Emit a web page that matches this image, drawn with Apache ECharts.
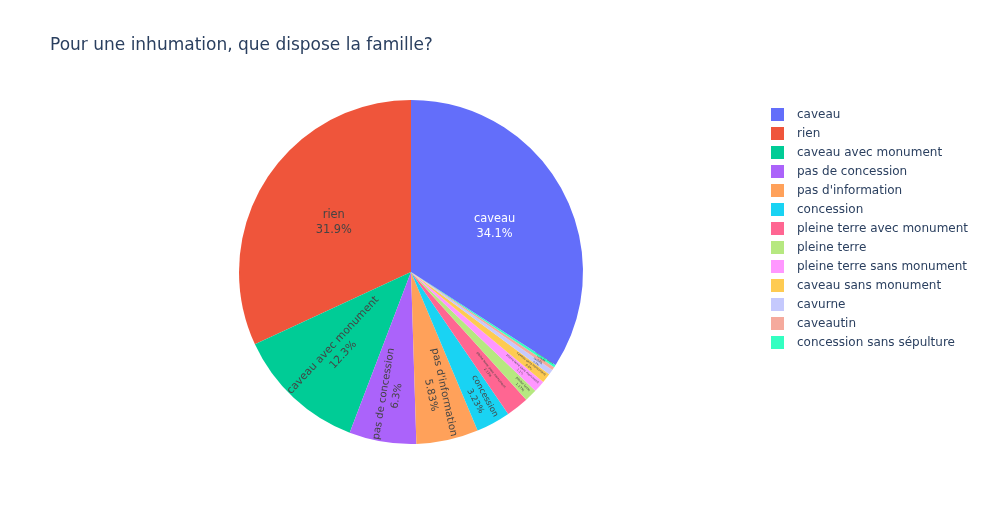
<!DOCTYPE html>
<html><head><meta charset="utf-8">
<script src="https://cdn.jsdelivr.net/npm/echarts@6/dist/echarts.min.js"></script>
<style>html,body{margin:0;padding:0;background:#fff}#c{width:985px;height:525px}</style>
</head><body><div id="c"></div>
<script>
// legend / category order (sorted by value, as in the reference legend)
const categories = ["caveau","rien","caveau avec monument","pas de concession","pas d'information","concession","pleine terre avec monument","pleine terre","pleine terre sans monument","caveau sans monument","cavurne","caveautin","concession sans sépulture"];
const values = [34.1, 31.9, 12.3, 6.3, 5.83, 3.23, 2.13, 1.17, 1.1, 0.9, 0.5, 0.3, 0.24];
const colors = ["#636efa","#EF553B","#00cc96","#ab63fa","#FFA15A","#19d3f3","#FF6692","#B6E880","#FF97FF","#FECB52","#c5c9fd","#f5aa9d","#33ffc1"];
const labelSizes = [11.4, 11.4, 10.7, 10.1, 10.3, 8.4, 3.2, 3.3, 3, 3, 2.5, 2, 1.6];
const labelRadiusScale = [1.07, 1.03, 1.2, 1.4, 1.4, 1.62, 1.42, 1.78, 1.66, 1.7, 1.74, 1.76, 1.78];
// drawing order around the pie (counter-clockwise from 12 o'clock, caveau last)
const drawOrder = [1,2,3,4,5,6,7,8,9,10,11,12,0];

const CX = 411, CY = 272, R = 172;
const FONT = 'DejaVu Sans';
const chart = echarts.init(document.getElementById('c'));
const data = drawOrder.map(i=>({
  name:categories[i], value:values[i], itemStyle:{color:colors[i]},
  label:{
    rotate: i<2 ? 0 : 'radial',
    color: i===0 ? '#ffffff' : '#444444',
    fontSize: labelSizes[i],
    lineHeight: Math.round(labelSizes[i]*1.3*10)/10,
    show: true
  }
}));
function fmtPct(p){ return parseFloat(p.toPrecision(3)).toString(); }
chart.setOption({
  animation:false,
  title:{text:'Pour une inhumation, que dispose la famille?', left:50, top:37, padding:0,
    textStyle:{fontFamily:FONT, fontSize:17, fontWeight:'normal', color:'#2a3f5f'}},
  legend:{orient:'vertical', left:771, top:108, padding:0, itemWidth:13, itemHeight:13, itemGap:6,
    icon:'rect', data:categories, selectedMode:false,
    textStyle:{fontFamily:FONT, fontSize:12, color:'#2a3f5f', padding:[0,0,0,8]}},
  series:[{
    type:'pie', center:[CX,CY], radius:[0,R], startAngle:90, clockwise:false,
    avoidLabelOverlap:false, data:data,
    label:{position:'inside', fontFamily:FONT,
      formatter:p=>p.name+'\n'+fmtPct(p.percent)+'%'},
    labelLine:{show:false},
    labelLayout:function(params){
      const ci = drawOrder[params.dataIndex];
      const k = labelRadiusScale[ci];
      const r = params.labelRect;
      const lx = r.x + r.width/2, ly = r.y + r.height/2;
      return {x: CX + k*(lx-CX), y: CY + k*(ly-CY)};
    },
    emphasis:{disabled:true}
  }]
});
</script></body></html>
